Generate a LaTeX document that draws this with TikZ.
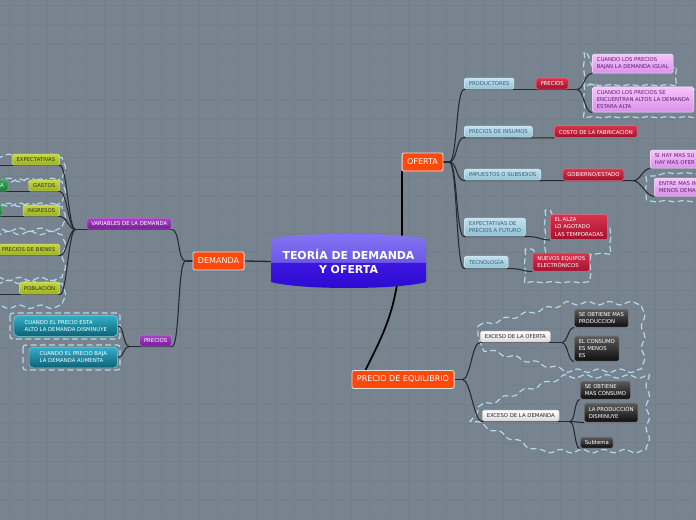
\documentclass[tikz,border=0pt]{standalone}
\usepackage{fontspec}
\setmainfont{DejaVu Sans}
\usetikzlibrary{positioning,calc,decorations.pathmorphing}
\definecolor{fondo}{RGB}{119,131,143}
\definecolor{rejilla}{RGB}{114,126,138}
\definecolor{lineagris}{RGB}{38,42,48}
\definecolor{temaA}{RGB}{134,118,242}
\definecolor{temaB}{RGB}{106,88,232}
\definecolor{temaC}{RGB}{62,22,224}
\definecolor{temaD}{RGB}{42,10,208}
\definecolor{naranja}{RGB}{255,72,10}
\definecolor{celesteA}{RGB}{194,226,238}
\definecolor{celesteB}{RGB}{146,194,214}
\definecolor{celesteT}{RGB}{60,90,120}
\definecolor{rojoA}{RGB}{216,52,78}
\definecolor{rojoB}{RGB}{166,16,44}
\definecolor{rosaA}{RGB}{246,196,250}
\definecolor{rosaB}{RGB}{218,146,234}
\definecolor{rosaT}{RGB}{92,30,114}
\definecolor{limaA}{RGB}{198,214,70}
\definecolor{limaB}{RGB}{154,176,36}
\definecolor{limaT}{RGB}{44,52,16}
\definecolor{verdeA}{RGB}{50,164,86}
\definecolor{verdeB}{RGB}{30,126,60}
\definecolor{moradoA}{RGB}{166,70,198}
\definecolor{moradoB}{RGB}{120,26,154}
\definecolor{turqA}{RGB}{48,176,200}
\definecolor{turqB}{RGB}{10,98,120}
\definecolor{negroA}{RGB}{92,92,92}
\definecolor{negroB}{RGB}{14,14,14}
\definecolor{frontera}{RGB}{178,218,236}
\newcommand{\letrachica}{\fontsize{4}{5.3}\selectfont}
\newcommand{\letragrande}{\fontsize{6}{7}\selectfont}
\pgfdeclarelayer{capafondo}
\pgfdeclarelayer{capalineas}
\pgfsetlayers{capafondo,capalineas,main}

\begin{document}
\begin{tikzpicture}[x=0.75pt, y=-0.75pt, font=\letrachica,
    caja/.style={rectangle, rounded corners=1.2pt, inner xsep=3.3pt, inner ysep=2.6pt,
                 minimum height=8.25pt, outer sep=0.3pt, align=left, line width=0.4pt},
    celeste/.style={caja, top color=celesteA, bottom color=celesteB, draw=celesteA!70!white, text=celesteT},
    rojo/.style={caja, top color=rojoA, bottom color=rojoB, draw=rojoA!70!white, text=white},
    rosa/.style={caja, top color=rosaA, bottom color=rosaB, draw=rosaA!60!white, text=rosaT},
    lima/.style={caja, top color=limaA, bottom color=limaB, draw=limaA!70!white, text=limaT},
    verde/.style={caja, top color=verdeA, bottom color=verdeB, draw=verdeA!70!white, text=white},
    morado/.style={caja, top color=moradoA, bottom color=moradoB, draw=moradoA!70!white, text=white},
    turquesa/.style={caja, rounded corners=3pt, inner xsep=8pt, inner ysep=3.6pt,
                     top color=turqA, bottom color=turqB, draw=turqA!60!white, text=white},
    negro/.style={caja, top color=negroA, bottom color=negroB, draw=negroA!80!white, text=white},
    blanco/.style={caja, top color=white, bottom color=black!14, draw=black!25, text=black!85},
    principal/.style={rectangle, rounded corners=1.5pt, fill=naranja, draw=white!88!black, line width=0.6pt,
                      text=white, font=\letragrande, inner xsep=3.8pt, minimum height=13.5pt, outer sep=0.3pt},
    tema/.style={text=white, font=\fontsize{8.2}{9.8}\selectfont\bfseries, align=center,
                 minimum width=116pt, minimum height=41pt, inner sep=0pt},
    linea/.style={draw=lineagris, line width=0.8pt},
    tronco/.style={draw=black, line width=1.3pt},
    limite/.style={draw=frontera, line width=0.9pt, dash pattern=on 4.5pt off 2.5pt},
    ondas/.style={limite, decorate, decoration={snake, segment length=16pt, amplitude=1.3pt}},
    ondita/.style={limite, decorate, decoration={snake, segment length=14pt, amplitude=0.5pt}}]
\useasboundingbox (0,0) rectangle (696,520);
\begin{pgfonlayer}{capafondo}
\fill[fondo] (0,0) rectangle (696,520);
\foreach \gx in {9,28,...,696} \draw[rejilla, line width=0.3pt] (\gx,0) -- (\gx,520);
\foreach \gy in {5,24,...,520} \draw[rejilla, line width=0.3pt] (0,\gy) -- (696,\gy);
\end{pgfonlayer}

% tema central
\shade[top color=temaA, bottom color=temaB] (271,263) -- (271,239) .. controls (300,232) and (397,232) .. (426,239) -- (426,263) -- cycle;
\shade[top color=temaC, bottom color=temaD] (271,263) -- (271,282) .. controls (300,290) and (397,290) .. (426,282) -- (426,263) -- cycle;
\node[tema] (tema) at (348.5,261.5) {TEORÍA DE DEMANDA\\Y OFERTA};

\node[principal] (demanda) at (218.5,261) {DEMANDA};
\node[principal] (oferta) at (422.5,162) {OFERTA};
\node[principal] (equilibrio) at (403,379.5) {PRECIO DE EQUILIBRIO};

% DEMANDA
\node[morado, anchor=south east] (variables) at (172,229.5) {VARIABLES DE LA DEMANDA};
\node[morado, anchor=south east] (preciosD) at (172,346.5) {PRECIOS};
\foreach \n/\t/\y in {expectativas/EXPECTATIVAS/165.5, gastos/GASTOS/191.5, ingresos/INGRESOS/216.5,
                      bienes/PRECIOS DE BIENES/255.5, poblacion/POBLACIÓN/294.5}
  \node[lima, anchor=south east] (\n) at (60,\y) {\t};
\node[verde, anchor=south east] (gastosA) at (8.5,191.5) {\hspace*{24pt}A};
\node[verde, anchor=south east, minimum width=24pt] (ingresosA) at (2.5,216.5) {};
\node[turquesa, anchor=east] (alto) at (118,326) {CUANDO EL PRECIO ESTA\\ALTO LA DEMANDA DISMINUYE};
\node[turquesa, anchor=east] (baja) at (118,357.5) {CUANDO EL PRECIO BAJA\\LA DEMANDA AUMENTA};

% OFERTA
\node[celeste, anchor=south west] (productores) at (464,89.5) {PRODUCTORES};
\node[rojo, right=16pt of productores] (preciosO) {PRECIOS};
\node[celeste, anchor=south west] (insumos) at (464,137.5) {PRECIOS DE INSUMOS};
\node[rojo, right=16pt of insumos] (costo) {COSTO DE LA FABRICACIÓN};
\node[celeste, anchor=south west] (impuestos) at (464,180.5) {IMPUESTOS O SUBSIDIOS};
\node[rojo, right=16pt of impuestos] (gobierno) {GOBIERNO/ESTADO};
\node[celeste, anchor=south west] (futuro) at (464,236.5) {EXPECTATIVAS DE\\PRECIOS A FUTURO};
\node[rojo, right=18pt of futuro] (alza) {EL ALZA\\LO AGOTADO\\LAS TEMPORADAS};
\node[celeste, anchor=south west] (tecnologia) at (464,268.5) {TECNOLOGÍA};
\node[rojo, right=18pt of tecnologia] (equipos) {NUEVOS EQUIPOS\\ELECTRÓNICOS};
\node[rosa, anchor=south west] (bajan) at (592,73.5) {CUANDO LOS PRECIOS\\BAJAN LA DEMANDA IGUAL};
\node[rosa, anchor=south west] (altos) at (592,112.5) {CUANDO LOS PRECIOS SE\\ENCUENTRAN ALTOS LA DEMANDA\\ESTARA ALTA};
\node[rosa, anchor=south west, text width=62pt] (subsidios) at (650,168.5) {SI HAY MAS SU\\HAY MAS OFER};
\node[rosa, anchor=south west, text width=62pt] (entre) at (654,196.5) {ENTRE MAS IN\\MENOS DEMA};

% PRECIO DE EQUILIBRIO
\node[blanco, anchor=south west] (excesoO) at (480,342.5) {EXCESO DE LA OFERTA};
\node[blanco, anchor=south west] (excesoD) at (482,421.5) {EXCESO DE LA DEMANDA};
\node[negro, anchor=south west] (produccion) at (574,327.5) {SE OBTIENE MAS\\PRODUCCION};
\node[negro, anchor=south west] (consumo) at (574,361.5) {EL CONSUMO\\ES MENOS\\ES};
\node[negro, anchor=south west] (masconsumo) at (580,399.5) {SE OBTIENE\\MAS CONSUMO};
\node[negro, anchor=south west] (disminuye) at (584,422.5) {LA PRODUCCIÓN\\DISMINUYE};
\node[negro, anchor=south west] (subtema) at (580,448.5) {Subtema};

\begin{pgfonlayer}{capalineas}
% limites
\foreach \ya/\yb in {151/169, 175/196, 200/221, 228/269, 277/298}
  \draw[ondas] (-25,\ya) rectangle (66,\yb);
\draw[limite, rounded corners=2pt] (10,313) rectangle (120,339);
\draw[limite, rounded corners=2pt] (23,345) rectangle (120,370);
\draw[ondita] (584,52) rectangle (677,77);
\draw[ondita] (584,84) rectangle (702,115);
\draw[ondita] (646,176) rectangle (702,200);
\draw[ondita] (545,210) rectangle (612,244);
\draw[ondita] (525,249) rectangle (594,277);
\draw[ondas] (478,326) -- (560,305) -- (634,305) -- (634,368) -- (560,368) -- (478,347) -- cycle;
\draw[ondas] (478,407) -- (560,378) -- (645,378) -- (645,457) -- (545,457) -- (478,426) -- cycle;

% conectores
\draw[linea, line width=1pt] (demanda.east) -- (tema.west);
\draw[tronco] (oferta.south west |- tema.center) -- (oferta.south west);
\draw[tronco] ($(tema.center)+(49,20)$) .. controls +(-6,40) and +(12,-25) .. ($(equilibrio.north west)+(14,0)$);

\draw[linea] (demanda.west) -- ++(-7,0) coordinate (fd);
\foreach \h in {variables,preciosD}
  \draw[linea] (fd) .. controls +(-8,0) and +(8,0) .. (\h.south east);
\draw[linea] (variables.south east) -- (variables.south west) -- ++(-11,0) coordinate (fv);
\foreach \h in {expectativas,gastos,ingresos,bienes,poblacion}
  \draw[linea] (fv) .. controls +(-7,0) and +(7,0) .. (\h.south east);
\coordinate (borde) at (-10,0);
\foreach \h in {expectativas,bienes,poblacion}
  \draw[linea] (\h.south east) -- (\h.south east -| borde);
\draw[linea] (gastos.south east) -- (gastosA.south east) -- (gastosA.south west);
\draw[linea] (ingresos.south east) -- (ingresosA.south east) -- (ingresosA.south west);
\draw[linea] (preciosD.south east) -- (preciosD.south west) -- ++(-10,0) coordinate (fp);
\foreach \h in {alto,baja}
  \draw[linea] (fp) .. controls +(-6,0) and +(6,0) .. (\h.east);

\draw[linea] (oferta.east) -- ++(6,0) coordinate (fo);
\foreach \h in {productores,insumos,impuestos,futuro,tecnologia}
  \draw[linea] (fo) .. controls +(8,0) and +(-8,0) .. (\h.south west);
\draw[linea] (productores.south west) -- (preciosO.south east) -- ++(8,0) coordinate (fpo);
\foreach \h in {bajan,altos}
  \draw[linea] (fpo) .. controls +(8,0) and +(-8,0) .. (\h.south west);
\draw[linea] (insumos.south west) -- (costo.south west);
\draw[linea] (impuestos.south west) -- (gobierno.south east) -- ++(9,0) coordinate (fg);
\foreach \h in {subsidios,entre}
  \draw[linea] (fg) .. controls +(7,0) and +(-7,0) .. (\h.south west);
\draw[linea] (futuro.south west) -- (futuro.south east) .. controls +(14,0) and +(-10,0) .. (alza.south west);
\draw[linea] (tecnologia.south west) -- (tecnologia.south east) .. controls +(14,0) and +(-10,0) .. (equipos.south west);

\draw[linea] (equilibrio.east) -- ++(8,0) coordinate (fe);
\foreach \h in {excesoO,excesoD}
  \draw[linea] (fe) .. controls +(8,0) and +(-8,0) .. (\h.south west);
\draw[linea] (excesoO.south west) -- (excesoO.south east) -- ++(11,0) coordinate (fxo);
\foreach \h in {produccion,consumo}
  \draw[linea] (fxo) .. controls +(6,0) and +(-6,0) .. (\h.south west);
\draw[linea] (excesoD.south west) -- (excesoD.south east) -- ++(10,0) coordinate (fxd);
\foreach \h in {masconsumo,disminuye,subtema}
  \draw[linea] (fxd) .. controls +(6,0) and +(-6,0) .. (\h.south west);
\end{pgfonlayer}
\end{tikzpicture}
\end{document}
